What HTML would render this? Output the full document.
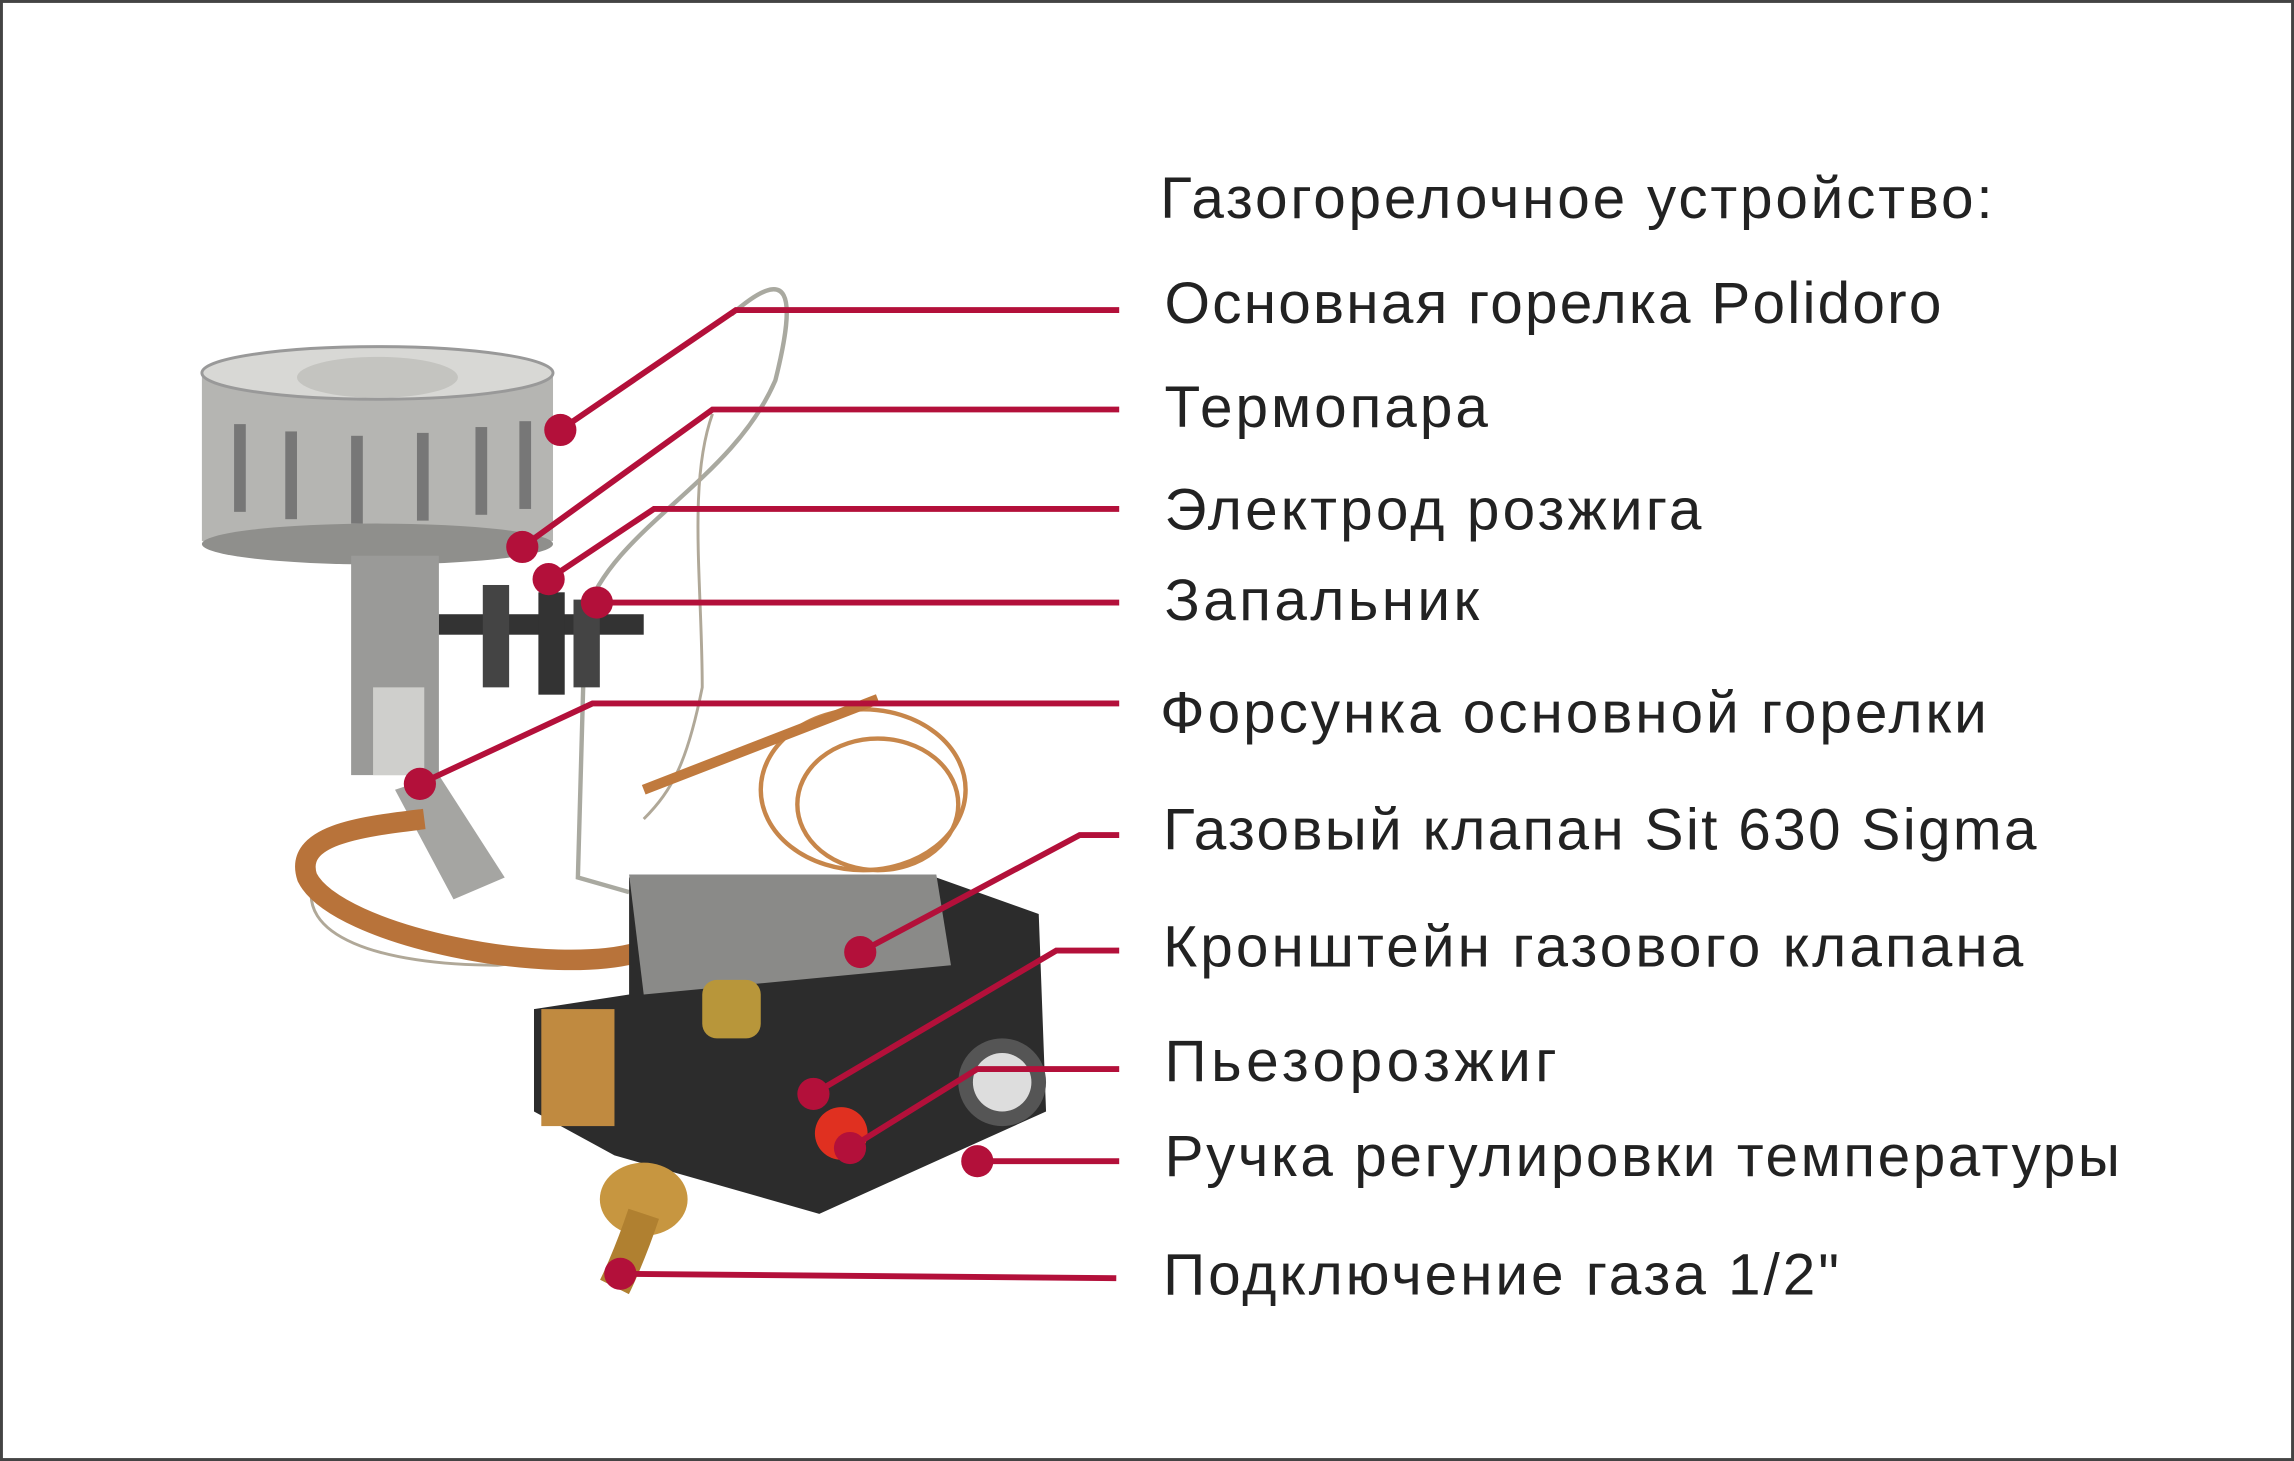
<!DOCTYPE html>
<html><head><meta charset="utf-8"><style>
html,body{margin:0;padding:0;background:#fff;}
svg{display:block}
text{font-family:"Liberation Sans",sans-serif;fill:#222;font-size:40px}
</style></head><body>
<svg width="2294" height="1461" viewBox="0 0 1568 999" preserveAspectRatio="none" xmlns="http://www.w3.org/2000/svg">
<rect x="1" y="1" width="1566" height="997" fill="#fff" stroke="#444" stroke-width="2"/>
<g>
<path d="M500,215 C540,180 545,200 530,260 C500,330 420,360 400,420 L395,600 L430,610" fill="none" stroke="#a9a9a0" stroke-width="3"/>
<path d="M487,283 C470,330 480,400 480,470 C470,520 460,540 440,560" fill="none" stroke="#b0a898" stroke-width="2"/>
<path d="M215,600 C200,640 260,660 340,660 L430,650" fill="none" stroke="#b0a898" stroke-width="2"/>
<ellipse cx="590" cy="540" rx="70" ry="55" fill="none" stroke="#c7864a" stroke-width="3"/>
<ellipse cx="600" cy="550" rx="55" ry="45" fill="none" stroke="#c7864a" stroke-width="3"/>
<path d="M440,540 L600,478" stroke="#c07a3e" stroke-width="7"/>
<rect x="138" y="255" width="240" height="115" fill="#b5b5b2"/>
<ellipse cx="258" cy="372" rx="120" ry="14" fill="#8f8f8c"/>
<ellipse cx="258" cy="255" rx="120" ry="18" fill="#d8d8d5" stroke="#999" stroke-width="2"/>
<ellipse cx="258" cy="258" rx="55" ry="14" fill="#c4c4c0"/>
<g fill="#777"><rect x="160" y="290" width="8" height="60"/><rect x="195" y="295" width="8" height="60"/><rect x="240" y="298" width="8" height="60"/><rect x="285" y="296" width="8" height="60"/><rect x="325" y="292" width="8" height="60"/><rect x="355" y="288" width="8" height="60"/></g>
<rect x="240" y="380" width="60" height="150" fill="#9a9a98"/>
<rect x="255" y="470" width="35" height="60" fill="#cfcfcc"/>
<path d="M270,540 L300,530 L345,600 L310,615 Z" fill="#a5a5a2"/>
<rect x="300" y="420" width="140" height="14" fill="#333"/>
<rect x="330" y="400" width="18" height="70" fill="#444"/>
<rect x="368" y="405" width="18" height="70" fill="#333"/>
<rect x="392" y="410" width="18" height="60" fill="#444"/>
<path d="M440,650 C380,670 230,640 210,600 C200,570 250,565 290,560" fill="none" stroke="#b8733a" stroke-width="14"/>
<path d="M430,600 L640,600 L710,625 L715,760 L560,830 L420,790 L365,760 L365,690 L430,680 Z" fill="#2c2c2c"/>
<path d="M430,598 L640,598 L650,660 L440,680 Z" fill="#8a8a88"/>
<rect x="480" y="670" width="40" height="40" rx="10" fill="#b8963a"/>
<rect x="370" y="690" width="50" height="80" fill="#c08a40"/>
<circle cx="685" cy="740" r="30" fill="#555"/>
<circle cx="685" cy="740" r="20" fill="#ddd"/>
<circle cx="575" cy="775" r="18" fill="#e03020"/>
<ellipse cx="440" cy="820" rx="30" ry="25" fill="#c79640"/>
<path d="M440,830 C430,860 420,880 420,880" stroke="#b08030" stroke-width="22" fill="none"/>
</g>
<g stroke="#b3103a" stroke-width="4" fill="none">
<polyline points="383,294 503,212 765,212"/>
<polyline points="357,374 487,280 765,280"/>
<polyline points="375,396 447,348 765,348"/>
<polyline points="408,412 765,412"/>
<polyline points="287,536 405,481 765,481"/>
<polyline points="588,651 738,571 765,571"/>
<polyline points="556,748 722,650 765,650"/>
<polyline points="581,785 668,731 765,731"/>
<polyline points="668,794 765,794"/>
<polyline points="424,871 763,874"/>
</g>
<g fill="#b3103a">
<circle cx="383" cy="294" r="11"/><circle cx="357" cy="374" r="11"/><circle cx="375" cy="396" r="11"/>
<circle cx="408" cy="412" r="11"/><circle cx="287" cy="536" r="11"/><circle cx="588" cy="651" r="11"/>
<circle cx="556" cy="748" r="11"/><circle cx="581" cy="785" r="11"/><circle cx="668" cy="794" r="11"/>
<circle cx="424" cy="871" r="11"/>
</g>
<text x="793" y="149" textLength="569" lengthAdjust="spacing">Газогорелочное устройство:</text>
<text x="796" y="221" textLength="531" lengthAdjust="spacing">Основная горелка Polidoro</text>
<text x="796" y="292" textLength="221" lengthAdjust="spacing">Термопара</text>
<text x="796" y="362" textLength="367" lengthAdjust="spacing">Электрод розжига</text>
<text x="796" y="424" textLength="215" lengthAdjust="spacing">Запальник</text>
<text x="793" y="501" textLength="565" lengthAdjust="spacing">Форсунка основной горелки</text>
<text x="795" y="581" textLength="597" lengthAdjust="spacing">Газовый клапан Sit 630 Sigma</text>
<text x="795" y="661" textLength="588" lengthAdjust="spacing">Кронштейн газового клапана</text>
<text x="796" y="739" textLength="268" lengthAdjust="spacing">Пьезорозжиг</text>
<text x="796" y="804" textLength="653" lengthAdjust="spacing">Ручка регулировки температуры</text>
<text x="795" y="885" textLength="462" lengthAdjust="spacing">Подключение газа 1/2"</text>
</svg>
</body></html>
